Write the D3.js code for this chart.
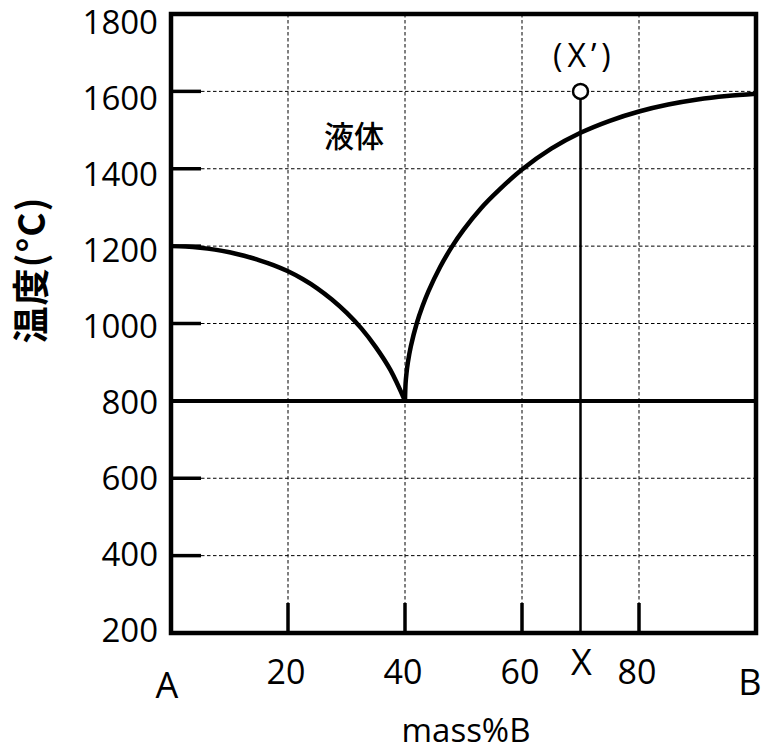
<!DOCTYPE html>
<html><head><meta charset="utf-8">
<script src="https://cdn.jsdelivr.net/npm/d3@7"></script>
<style>body{margin:0;background:#fff}svg{display:block}</style>
</head><body>
<script>
// ---- data ----
const yTicks = [200,400,600,800,1000,1200,1400,1600,1800];
const xTicks = [20,40,60,80];
const xEnds = [{v:0,label:"A"},{v:100,label:"B"}];
const eutecticT = 800;
const xComp = 70;          // composition X
const pointT = 1600;       // point (X')
const leftLiquidus = [[0,1200],[2.5,1199],[5,1196],[7.5,1191],[10,1184],[12.5,1175],[15,1164],[17.5,1151],[20,1135],[22.5,1115],[25,1091],[27.5,1062],[30,1028],[32.5,988],[35,939],[37.5,880],[40,800]];
const rightLiquidus = [[40,800],[40.1,845],[40.25,871],[40.5,900],[41,941],[42,1000],[43,1045],[44,1083],[46,1146],[48,1198],[50,1242],[53,1298],[56,1344],[60,1398],[65,1452],[70,1493],[75,1524],[80,1548],[85,1566],[90,1579],[95,1588],[100,1594]];
const labels = {liquid:"液体", yTitle:"温度(°C)", xTitle:"mass%B", point:"(X’)", comp:"X"};

const W=764,H=752;
const svg=d3.select("body").append("svg").attr("width",W).attr("height",H);
const x=d3.scaleLinear().domain([0,100]).range([171,756]);
const y=d3.scaleLinear().domain([200,1800]).range([633,14]);
const yLab=d3.scaleLinear().domain([200,1800]).range([630,22]);
const font="'Open Sans', sans-serif";
const cjk="'Noto Sans CJK JP', sans-serif";
const dash="3.5,2.5";

// grid: horizontal dashed
svg.append("g").selectAll("line").data(yTicks.filter(d=>d>200&&d<1800&&d!==eutecticT)).join("line")
  .attr("x1",x(0)+30).attr("x2",x(100)).attr("y1",d=>y(d)).attr("y2",d=>y(d))
  .attr("stroke","#000").attr("stroke-width",1).attr("stroke-dasharray",dash);
// grid: vertical dashed
svg.append("g").selectAll("line").data(xTicks).join("line")
  .attr("x1",d=>x(d)).attr("x2",d=>x(d)).attr("y1",y(1800)).attr("y2",y(200)-30)
  .attr("stroke","#000").attr("stroke-width",1).attr("stroke-dasharray",dash);
// inner ticks y
svg.append("g").selectAll("line").data(yTicks.filter(d=>d>200&&d<1800)).join("line")
  .attr("x1",x(0)).attr("x2",x(0)+30).attr("y1",d=>y(d)).attr("y2",d=>y(d))
  .attr("stroke","#000").attr("stroke-width",3.5);
// inner ticks x
svg.append("g").selectAll("line").data(xTicks).join("line")
  .attr("x1",d=>x(d)).attr("x2",d=>x(d)).attr("y1",y(200)).attr("y2",y(200)-30)
  .attr("stroke","#000").attr("stroke-width",3.5);

// eutectic line
svg.append("line").attr("x1",x(0)).attr("x2",x(100)).attr("y1",y(eutecticT)).attr("y2",y(eutecticT))
  .attr("stroke","#000").attr("stroke-width",4);

// liquidus curves
const line=d3.line().x(d=>x(d[0])).y(d=>y(d[1])).curve(d3.curveCatmullRom.alpha(0.5));
[leftLiquidus,rightLiquidus].forEach(dat=>{
  svg.append("path").attr("d",line(dat)).attr("fill","none").attr("stroke","#000").attr("stroke-width",4.5).attr("stroke-linejoin","round");
});

// composition line X
svg.append("line").attr("x1",x(xComp)).attr("x2",x(xComp)).attr("y1",y(200)).attr("y2",y(pointT))
  .attr("stroke","#000").attr("stroke-width",2.5);
svg.append("circle").attr("cx",x(xComp)).attr("cy",y(pointT)).attr("r",7.5)
  .attr("fill","#fff").attr("stroke","#000").attr("stroke-width",2.5);

// border
svg.append("rect").attr("x",x(0)).attr("y",y(1800)).attr("width",x(100)-x(0)).attr("height",y(200)-y(1800))
  .attr("fill","none").attr("stroke","#000").attr("stroke-width",4.5);

// y tick labels
svg.append("g").selectAll("text").data(yTicks).join("text")
  .attr("x",158).attr("y",d=>yLab(d)).attr("dy","0.36em").attr("text-anchor","end")
  .attr("font-family",font).attr("font-size",33).text(d=>d);
// x tick labels
svg.append("g").selectAll("text").data(xTicks).join("text")
  .attr("x",d=>x(d)-2).attr("y",684).attr("text-anchor","middle")
  .attr("font-family",font).attr("font-size",34).text(d=>d);
svg.append("g").selectAll("text").data(xEnds).join("text")
  .attr("x",d=>d.v===0?x(d.v)-4:x(d.v)-6).attr("y",d=>d.v===0?698:695).attr("text-anchor","middle")
  .attr("font-family",font).attr("font-size",36).text(d=>d.label);
svg.append("text").attr("x",x(xComp)+1).attr("y",675).attr("text-anchor","middle")
  .attr("font-family",font).attr("font-size",36).text(labels.comp);

// point label
svg.append("text").attr("x",553).attr("y",67).attr("text-anchor","start").attr("letter-spacing",5)
  .attr("font-family",font).attr("font-size",32).text(labels.point);
// liquid label
svg.append("text").attr("x",354).attr("y",147).attr("text-anchor","middle")
  .attr("font-family",cjk).attr("font-weight",500).attr("font-size",30).text(labels.liquid);

// axis titles
svg.append("text").attr("x",466).attr("y",742).attr("text-anchor","middle")
  .attr("font-family",font).attr("font-size",33).text(labels.xTitle);
svg.append("text").attr("transform","translate(45,270) rotate(-90)").attr("text-anchor","middle")
  .attr("font-family",cjk).attr("font-weight","bold").attr("font-size",37).attr("letter-spacing",1).text(labels.yTitle);
</script>
</body></html>
